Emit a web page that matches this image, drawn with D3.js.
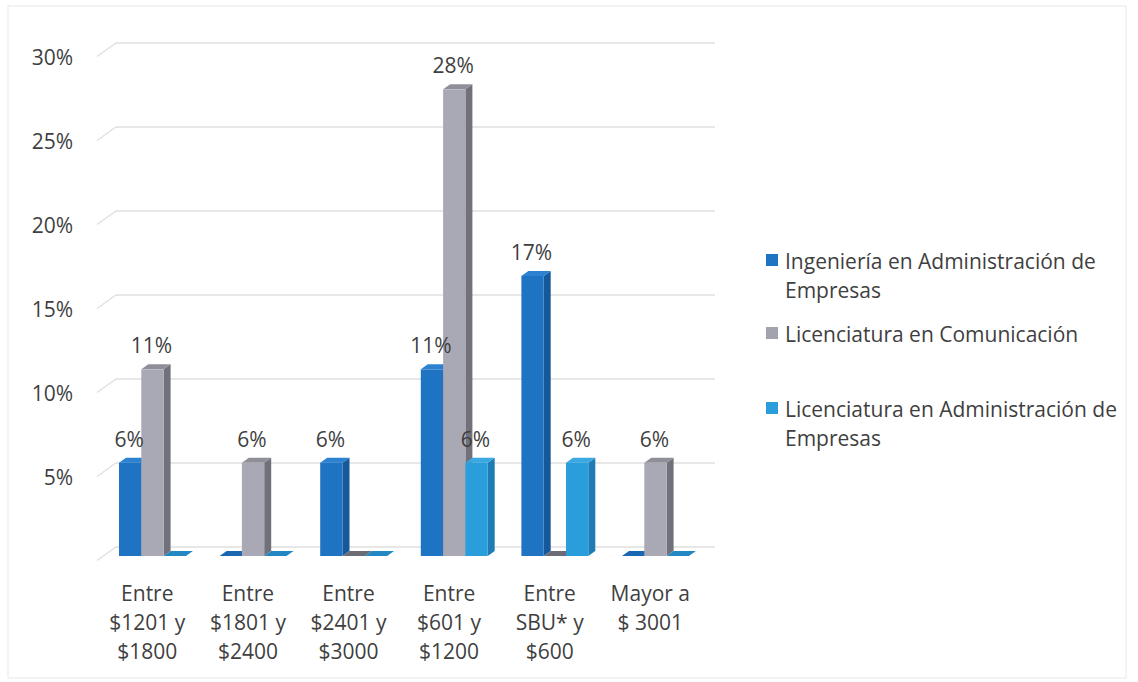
<!DOCTYPE html>
<html>
<head>
<meta charset="utf-8">
<script src="https://cdn.jsdelivr.net/npm/d3@7"></script>
<style>
  html, body { margin: 0; padding: 0; background: #fff; }
  svg { display: block; }
  text { font-family: "Open Sans", Lato, sans-serif; fill: #3f3f3f; }
</style>
</head>
<body>
<svg id="chart" width="1138" height="682"></svg>
<script>
// Salary ranges (three-line labels)
const categories = [
  ["Entre", "$1201 y", "$1800"],
  ["Entre", "$1801 y", "$2400"],
  ["Entre", "$2401 y", "$3000"],
  ["Entre", "$601 y", "$1200"],
  ["Entre", "SBU* y", "$600"],
  ["Mayor a", "$ 3001"]
];
const seriesNames = [
  ["Ingeniería en Administración de", "Empresas"],
  ["Licenciatura en Comunicación"],
  ["Licenciatura en Administración de", "Empresas"]
];
// Shares per range (fraction of respondents, n = 18)
const ingAdmin   = [1/18, 0, 1/18, 2/18, 3/18, 0];
const licComun   = [2/18, 1/18, 0, 5/18, 0, 1/18];
const licAdmin   = [0, 0, 0, 1/18, 1/18, 0];
const series = [ingAdmin, licComun, licAdmin];
const yTicks = [0.05, 0.10, 0.15, 0.20, 0.25, 0.30];

const palette = [
  { front: "#1f73c3", side: "#15599b", top: "#2c82d0", flat: "#1b66b0" },
  { front: "#a9a9b5", side: "#71717c", top: "#8f8f9a", flat: "#6c6c76" },
  { front: "#2a9edb", side: "#1d7cb4", top: "#3ba9e1", flat: "#2387c3" }
];

const FONT = "'Open Sans', Lato, sans-serif";
const FS = "21px";
const svg = d3.select("#chart");

// faint frame around the figure
svg.append("rect").attr("x", 8).attr("y", 6).attr("width", 1118).attr("height", 672)
  .attr("fill", "none").attr("stroke", "#e8e8e8").attr("stroke-width", 1);

const x = d3.scaleBand().domain(d3.range(categories.length)).range([97, 700.6]).padding(0);
const y = d3.scaleLinear().domain([0, 0.30]).range([556, 52]);

// 3D depth of the wall and of each bar
const wallDx = 19, wallDy = -9, wallDropL = 4.5;
const barDx = 7, barDy = -5;
const barW = 22.3, barOffset = 22;

// back wall gridlines with a short floor-side diagonal
const grid = svg.append("g");
[0].concat(yTicks).forEach(v => {
  const yb = y(v) + wallDy;
  grid.append("path")
    .attr("d", `M${97},${y(v) + wallDropL} L${97 + wallDx},${yb} L715,${yb}`)
    .attr("fill", "none").attr("stroke", "#e0e0e0").attr("stroke-width", 1.3);
});

// y axis labels
const yAxis = d3.axisLeft(y).tickValues(yTicks).tickFormat(d3.format(".0%")).tickSize(0).tickPadding(0);
const ga = svg.append("g").attr("transform", "translate(73,6)").call(yAxis);
ga.select(".domain").remove();
ga.selectAll("text").style("font-family", FONT).style("font-size", FS).attr("fill", "#3f3f3f");

// bars, drawn back-to-front within each group
const bars = svg.append("g");
categories.forEach((c, ci) => {
  series.forEach((vals, si) => {
    const v = vals[ci];
    const col = palette[si];
    const x0 = x(ci) + barOffset + si * barW;
    const x1 = x0 + barW;
    const yb = y(0), yt = y(v);
    if (v === 0) {
      bars.append("path")
        .attr("d", `M${x0},${yb} L${x1},${yb} L${x1 + barDx},${yb + barDy} L${x0 + barDx},${yb + barDy}Z`)
        .attr("fill", col.flat);
      return;
    }
    // side face
    bars.append("path")
      .attr("d", `M${x1},${yt} L${x1 + barDx},${yt + barDy} L${x1 + barDx},${yb + barDy} L${x1},${yb}Z`)
      .attr("fill", col.side);
    // top face
    bars.append("path")
      .attr("d", `M${x0},${yt} L${x0 + barDx},${yt + barDy} L${x1 + barDx},${yt + barDy} L${x1},${yt}Z`)
      .attr("fill", col.top);
    // front face
    bars.append("rect").attr("x", x0).attr("y", yt).attr("width", barW).attr("height", yb - yt)
      .attr("fill", col.front);
  });
});

// value labels
const labels = svg.append("g");
categories.forEach((c, ci) => {
  series.forEach((vals, si) => {
    const v = vals[ci];
    if (v === 0) return;
    const xc = x(ci) + barOffset + si * barW + barW / 2 - 1;
    labels.append("text").attr("x", xc).attr("y", y(v) - 16)
      .attr("text-anchor", "middle").style("font-size", FS)
      .text(d3.format(".0%")(v));
  });
});

// category labels
const xl = svg.append("g");
categories.forEach((lines, ci) => {
  const t = xl.append("text").attr("text-anchor", "middle").style("font-size", FS);
  lines.forEach((ln, li) => {
    t.append("tspan").attr("x", x(ci) + x.bandwidth() / 2).attr("y", 601 + li * 29).text(ln);
  });
});

// legend
const legendRows = [[269, 298], [342], [417, 446]];
const lg = svg.append("g");
seriesNames.forEach((lines, si) => {
  const ys = legendRows[si];
  lg.append("rect").attr("x", 766).attr("y", ys[0] - 15).attr("width", 12).attr("height", 12)
    .attr("fill", si === 1 ? "#a3a3ad" : palette[si].front);
  lines.forEach((ln, li) => {
    lg.append("text").attr("x", 785).attr("y", ys[li]).style("font-size", FS).text(ln);
  });
});
</script>
</body>
</html>
